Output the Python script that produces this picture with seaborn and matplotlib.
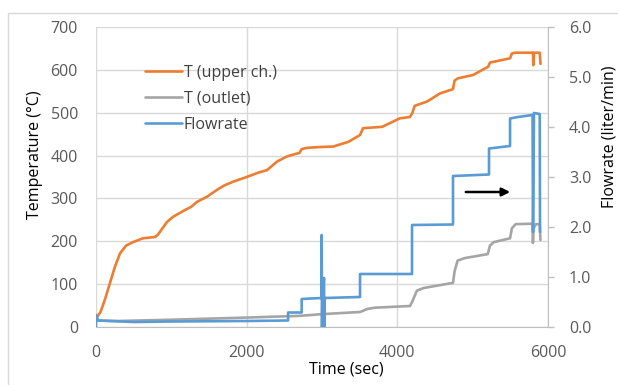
import matplotlib
matplotlib.use("Agg")
import matplotlib.pyplot as plt
import seaborn as sns
import pandas as pd
from matplotlib.patches import Rectangle

# ---- data ----
t_upper = [0, 60, 120, 186, 250, 319, 400, 491, 624, 783, 820, 942, 1022, 1181, 1260,
           1341, 1474, 1606, 1700, 1819, 2000, 2150, 2270, 2403, 2535, 2650, 2700, 2730,
           2800, 2974, 3146, 3350, 3505, 3545, 3797, 4036, 4168, 4200, 4230, 4394, 4566,
           4739, 4760, 4800, 5005, 5204, 5230, 5496, 5520, 5560, 5801, 5805, 5814, 5890, 5900]
T_upper = [20, 35, 65, 103, 140, 172, 190, 198, 207, 210, 215, 245, 257, 273, 280,
           292, 304, 320, 330, 339, 350, 360, 366, 386, 398, 404, 406, 415,
           418, 420, 421, 432, 448, 464, 467, 487, 490, 500, 516, 526, 545,
           555, 575, 580, 588, 607, 617, 627, 638, 640, 640, 611, 640, 640, 614]

t_outlet = [0, 300, 1000, 2000, 2700, 3000, 3505, 3600, 3700, 4168, 4200, 4260, 4350,
            4739, 4760, 4800, 4900, 5200, 5230, 5280, 5496, 5520, 5570, 5795, 5800,
            5808, 5840, 5890, 5900]
T_outlet = [15, 14, 17, 22, 26, 30, 35, 42, 45, 49, 60, 85, 91,
            103, 130, 155, 161, 170, 190, 198, 207, 230, 240, 241, 196,
            230, 240, 240, 203]

t_flow = [0, 0, 30, 500, 1000, 2000, 2550, 2550, 2730, 2730, 2995, 2995, 3000, 3005,
          3027, 3030, 3035, 3505, 3505, 4195, 4195, 4739, 4739, 5217, 5217, 5496,
          5496, 5600, 5795, 5801, 5814, 5890, 5894]
flow = [0, 0.24, 0.13, 0.10, 0.11, 0.12, 0.13, 0.29, 0.29, 0.56, 0.58, 1.84, 0.0, 0.58,
        0.98, 0.0, 0.58, 0.60, 1.06, 1.06, 2.04, 2.05, 3.02, 3.05, 3.57, 3.62,
        4.17, 4.20, 4.24, 1.90, 4.28, 4.26, 1.90]

x_ticks = [0, 2000, 4000, 6000]
y_ticks = [0, 100, 200, 300, 400, 500, 600, 700]
y2_ticks = [0.0, 1.0, 2.0, 3.0, 4.0, 5.0, 6.0]
labels = ["T (upper ch.)", "T (outlet)", "Flowrate"]

# ---- style ----
sns.set_style("white")
plt.rcParams['font.family'] = ['Open Sans', 'DejaVu Sans']

C_OR = "#ED7D31"
C_GR = "#A5A5A5"
C_BL = "#5B9BD5"
GRID = "#D9D9D9"
TICK = "#595959"

fig = plt.figure(figsize=(6.18, 3.85), dpi=100)
W, H = 618, 385
ax = fig.add_axes([96 / W, 1 - 327 / H, 452 / W, 300 / H])
ax2 = ax.twinx()

# outer chart border
fig.patches.append(Rectangle((8 / W, -0.1), 1.2, (1 - 13 / H) + 0.1, transform=fig.transFigure,
                             fill=False, edgecolor="#D9D9D9", linewidth=1.0))

df_up = pd.DataFrame({"t": t_upper, "v": T_upper})
df_out = pd.DataFrame({"t": t_outlet, "v": T_outlet})
df_fl = pd.DataFrame({"t": t_flow, "v": flow})

lw = 1.9
sns.lineplot(data=df_up, x="t", y="v", ax=ax, color=C_OR, linewidth=lw,
             estimator=None, sort=False, label=labels[0])
sns.lineplot(data=df_out, x="t", y="v", ax=ax, color=C_GR, linewidth=lw,
             estimator=None, sort=False, label=labels[1])
sns.lineplot(data=df_fl, x="t", y="v", ax=ax2, color=C_BL, linewidth=lw,
             estimator=None, sort=False, label=labels[2])

ax.set_xlim(0, 6000)
ax.set_ylim(0, 700)
ax2.set_ylim(0, 6.0)
ax.set_xticks(x_ticks)
ax.set_yticks(y_ticks)
ax2.set_yticks(y2_ticks)
ax2.set_yticklabels([f"{v:.1f}" for v in y2_ticks])

ax.grid(True, color=GRID, linewidth=1.0)
ax2.grid(False)
ax.set_axisbelow(True)

for s in ["top", "left", "right"]:
    ax.spines[s].set_visible(False)
    ax2.spines[s].set_visible(False)
ax2.spines["bottom"].set_visible(False)
ax.spines["bottom"].set_color("#BFBFBF")
ax2.spines["right"].set_visible(True)
ax2.spines["right"].set_color("#BFBFBF")

fs = 11.5
ax.tick_params(axis="x", length=0, pad=13, labelsize=fs, labelcolor=TICK)
ax.tick_params(axis="y", length=0, pad=13, labelsize=fs, labelcolor=TICK)
ax2.tick_params(axis="y", length=4, width=1, color="#BFBFBF", direction="out",
                pad=11, labelsize=fs, labelcolor=TICK)

ax.set_xlabel("Time (sec)", fontsize=11.5, color="#000000")
ax.set_ylabel("Temperature (°C)", fontsize=11.5, color="#000000")
ax2.set_ylabel("Flowrate (liter/min)", fontsize=11.5, color="#000000")
ax.xaxis.label.set_va("center")
ax.xaxis.set_label_coords(0.553, -0.143)
ax.yaxis.label.set_va("center")
ax.yaxis.set_label_coords(-0.135, 0.573)
ax2.yaxis.label.set_va("center")
ax2.yaxis.set_label_coords(1.135, 0.633)

# arrow
ax.annotate("", xy=(5535, 315), xytext=(4872, 315),
            arrowprops=dict(arrowstyle="-|>", color="black", lw=1.8, mutation_scale=12))

# legend
h1, l1 = ax.get_legend_handles_labels()
h2, l2 = ax2.get_legend_handles_labels()
if ax2.get_legend() is not None:
    ax2.get_legend().remove()
leg = ax.legend(h1 + h2, l1 + l2, loc="upper left", bbox_to_anchor=(0.095, 0.895),
                frameon=False, fontsize=11.5, handlelength=2.3, handletextpad=0.1,
                labelspacing=0.62, borderaxespad=0)
for txt in leg.get_texts():
    txt.set_color("#404040")
ax2.set_zorder(ax.get_zorder() + 1)
ax2.patch.set_visible(False)

fig.savefig("out.png", dpi=100)
